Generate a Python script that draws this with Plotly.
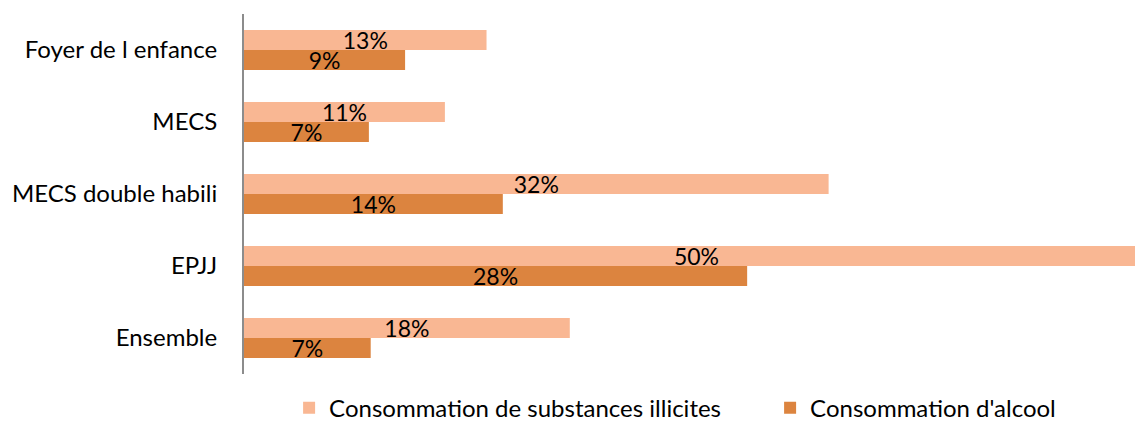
import plotly.graph_objects as go

categories = ["Foyer de l enfance", "MECS", "MECS double habili", "EPJJ", "Ensemble"]
illicites = [13.4, 11.1, 32.3, 50.0, 18.0]
alcool = [8.9, 6.9, 14.3, 27.8, 7.0]
series_names = ["Consommation de substances illicites", "Consommation d'alcool"]
colors = ["#F9B793", "#DC843F"]

def labels(vals):
    return [f"{round(v)}%" for v in vals]

fig = go.Figure()
for name, vals, col in zip(series_names, [illicites, alcool], colors):
    fig.add_trace(go.Bar(
        y=categories, x=vals, name=name, orientation="h",
        marker=dict(color=col, line=dict(width=0)),
        text=labels(vals), textposition="inside", insidetextanchor="middle",
        constraintext="none", textangle=0,
        textfont=dict(color="black", size=23, family="Lato"),
    ))

fig.update_layout(
    width=1135, height=413,
    margin=dict(l=236, r=0, t=6, b=47, autoexpand=False),
    paper_bgcolor="white", plot_bgcolor="white",
    barmode="group", bargap=0.444, bargroupgap=0,
    font=dict(family="Lato", size=23, color="black"),
    showlegend=True,
    legend=dict(orientation="h", x=-0.001, xanchor="left", y=-0.095, yanchor="middle",
                indentation=46,
                font=dict(size=24, color="black"), traceorder="normal",
                entrywidth=390, entrywidthmode="pixels"),
)
fig.update_xaxes(range=[0, 49.67], showgrid=False, zeroline=False, showline=False,
                 showticklabels=False, ticks="")
fig.update_yaxes(autorange="reversed", showline=True, linecolor="#8C8C8C", linewidth=2,
                 showgrid=False, ticks="", ticklabelstandoff=20,
                 tickfont=dict(size=24, color="black"))

fig.write_html("out.html")
